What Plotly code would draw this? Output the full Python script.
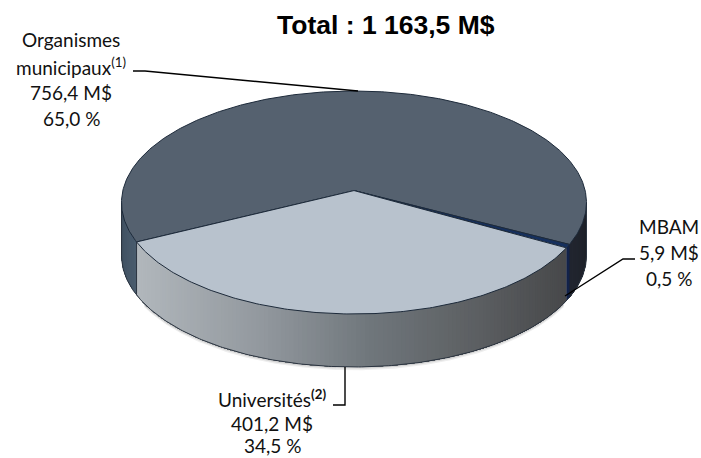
import math
import plotly.graph_objects as go

categories = ["Organismes municipaux", "MBAM", "Universités"]
values = [756.4, 5.9, 401.2]
total_label = "Total : 1 163,5 M$"
label_lines = [
    ["Organismes", "municipaux<sup>(1)</sup>", "756,4 M$", "65,0 %"],
    ["MBAM", "5,9 M$", "0,5 %"],
    ["Universités<sup><b>(2)</b></sup>", "401,2 M$", "34,5 %"],
]
top_colors = ["#55616f", "#16305e", "#b8c2cd"]
W, H = 701, 458
CX, CY, RX, RY, DEPTH = 354, 202.5, 232.5, 111.5, 53
K = -0.107
UNIV_START = 29.5

total = sum(values)
spans = [v / total * 360 for v in values]
starts = [UNIV_START - spans[1] - spans[0], UNIV_START - spans[1], UNIV_START]


def proj(theta_deg, dy=0):
    t = math.radians(theta_deg)
    x, y = math.cos(t), math.sin(t)
    d = 1 + K * y
    return CX + RX * x * math.sqrt(1 - K * K) / d, CY + RY * (y + K) / d + dy


def arc(a, b, dy=0, n=None):
    n = n or max(2, int(abs(b - a) * 1.5))
    return [proj(a + (b - a) * i / n, dy=dy) for i in range(n + 1)]


def lerp(stops, f):
    f = max(0, min(1, f))
    for (f0, c0), (f1, c1) in zip(stops, stops[1:]):
        if f <= f1:
            u = (f - f0) / (f1 - f0)
            return "rgb(%d,%d,%d)" % tuple(c0[i] + (c1[i] - c0[i]) * u for i in range(3))
    return "rgb(%d,%d,%d)" % stops[-1][1]


fig = go.Figure()


def poly(pts, fill, line=None, width=0.0):
    xs, ys = zip(*pts)
    fig.add_trace(go.Scatter(x=xs, y=ys, mode="lines", fill="toself", fillcolor=fill,
                             line=dict(color=line or fill, width=width), hoverinfo="skip",
                             showlegend=False))


th_right = math.degrees(math.asin(-K))
th_left = 180 - th_right

# soft shadow under the front wall
for off, col in [(2.5, "#eeeeee"), (1.2, "#d4d4d4")]:
    xs, ys = zip(*arc(th_right + 25, th_left - 25, DEPTH + off))
    fig.add_trace(go.Scatter(x=xs, y=ys, mode="lines", line=dict(color=col, width=1.5),
                             hoverinfo="skip", showlegend=False))

front_stops = [(0.0, (178, 184, 189)), (0.3, (146, 152, 158)), (0.55, (112, 119, 124)),
               (0.8, (92, 95, 98)), (1.0, (72, 73, 75))]
left_stops = [(0.0, (74, 92, 110)), (0.7, (66, 82, 98)), (1.0, (40, 50, 62))]
right_stops = [(0.0, (30, 33, 40)), (1.0, (34, 38, 48))]
step = 1.0


def walls(a, b, painter):
    # each strip runs to the far end of its part, so later strips paint over it with no seams
    a2, b2 = max(a, th_right), min(b, th_left)
    th = a2
    while th < b2:
        poly(arc(th, b2, 0) + arc(b2, th, DEPTH), painter(th))
        th += step


org_end = starts[0] + spans[0]
mb_end = org_end + spans[1]
uni_end = mb_end + spans[2]
xl, xr = proj(uni_end)[0], proj(mb_end)[0]
walls(th_right, org_end, lambda th: lerp(right_stops, (th - th_right) / (org_end - th_right)))
walls(org_end, mb_end, lambda th: "#12224a")
walls(mb_end, uni_end, lambda th: lerp(front_stops, (proj(th)[0] - xl) / (xr - xl)))
walls(uni_end, th_left, lambda th: lerp(left_stops, (th - uni_end) / (th_left - uni_end)))

edge = "#2b3440"
for pts in [arc(th_right, th_left, DEPTH), [proj(th_right), proj(th_right, dy=DEPTH)],
            [proj(th_left), proj(th_left, dy=DEPTH)], [proj(uni_end), proj(uni_end, dy=DEPTH)]]:
    xs, ys = zip(*pts)
    fig.add_trace(go.Scatter(x=xs, y=ys, mode="lines", line=dict(color=edge, width=1),
                             hoverinfo="skip", showlegend=False))

centre = (CX, CY + RY * K)
for a, s, c in zip(starts, spans, top_colors):
    poly([centre] + arc(a, a + s) + [centre], c, "#1d2a3a", 1)

leaders = [
    ([133, 145, 358], [71, 71, 91]),
    ([635, 623, 565], [259, 259, 296]),
    ([333, 345, 345], [405, 405, 367]),
]
for xs, ys in leaders:
    fig.add_trace(go.Scatter(x=xs, y=ys, mode="lines", line=dict(color="black", width=1.4),
                             hoverinfo="skip", showlegend=False))

anns = [dict(x=386, y=25, text="<b>%s</b>" % total_label, showarrow=False, xanchor="center", yanchor="middle",
             font=dict(family="Liberation Sans", size=26.5, color="black"))]
for lines, x, ys in zip(label_lines, [71, 669, 272], [[39, 66, 92, 118], [226, 252, 278], [398, 423, 445]]):
    for line, y in zip(lines, ys):
        anns.append(dict(x=x, y=y, text=line, showarrow=False, xanchor="center", yanchor="middle",
                         font=dict(family="Lato", size=19, color="#111111")))

fig.update_layout(
    width=W, height=H, margin=dict(l=0, r=0, t=0, b=0), paper_bgcolor="white", plot_bgcolor="white",
    xaxis=dict(range=[0, W], visible=False, fixedrange=True),
    yaxis=dict(range=[H, 0], visible=False, fixedrange=True),
    annotations=anns, showlegend=False,
)
fig.write_html("out.html", config={"displayModeBar": False},
               post_script="document.body.style.margin='0';document.body.style.overflow='hidden';")
